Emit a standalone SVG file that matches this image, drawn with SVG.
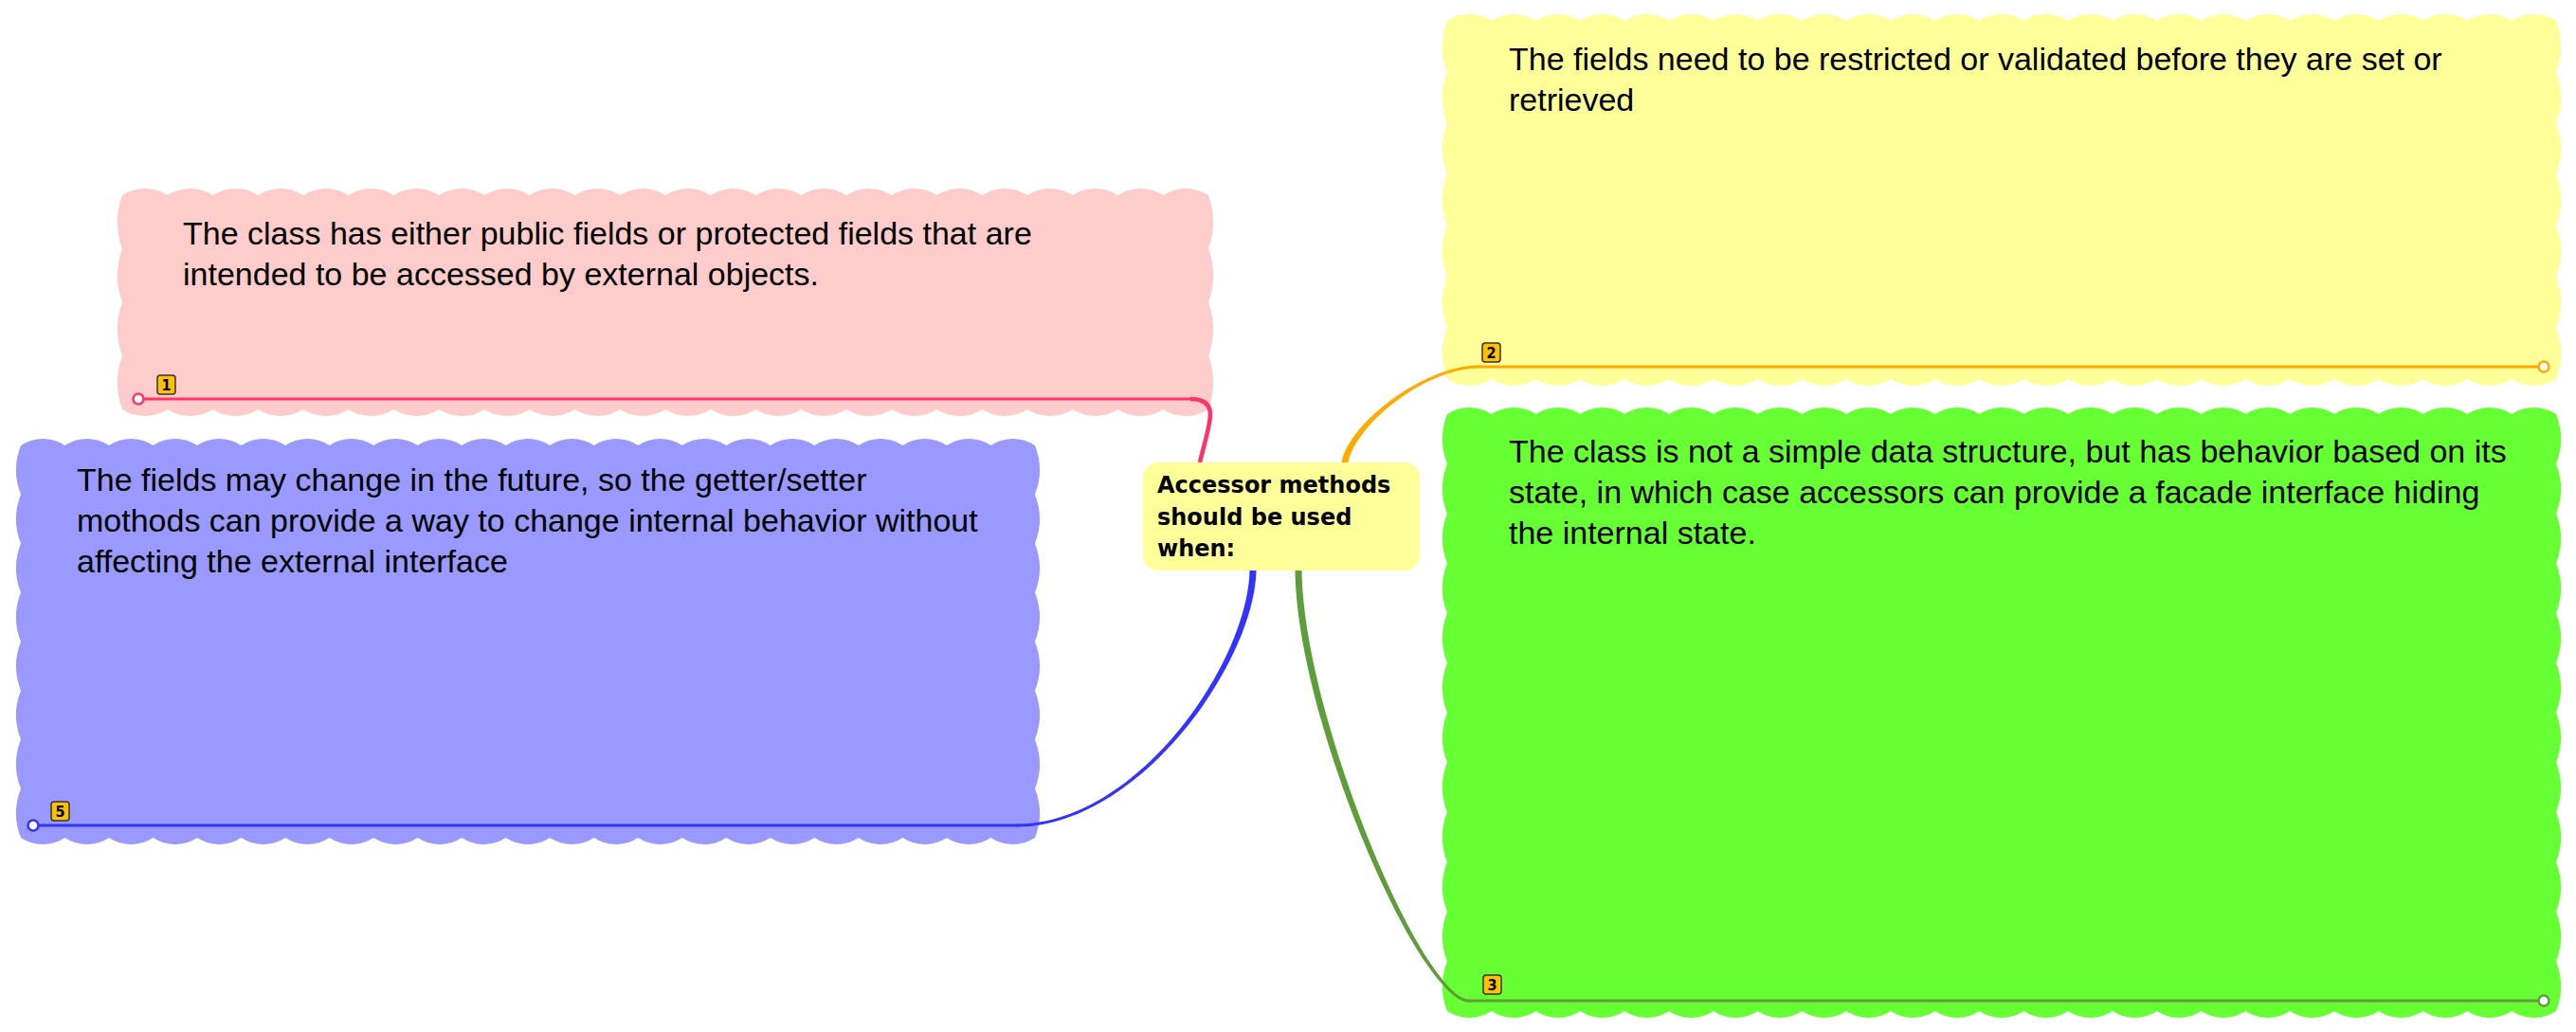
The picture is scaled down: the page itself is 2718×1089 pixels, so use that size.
<svg xmlns="http://www.w3.org/2000/svg" width="2718" height="1089" viewBox="0 0 2718 1089">
<style>
.t{font-family:"Liberation Sans",Arial,sans-serif;font-size:34px;fill:#000}
.c{font-family:"DejaVu Sans",Verdana,sans-serif;font-size:24px;font-weight:bold;fill:#000}
.bd{fill:#ffc000;stroke:#333;stroke-width:1.5}
.bt{font-family:"DejaVu Sans Condensed","DejaVu Sans",sans-serif;font-size:16px;font-weight:bold;fill:#000;text-anchor:middle}
.end{fill:#fff;stroke-width:2.5}
</style>
<rect width="2718" height="1089" fill="#fff"/>
<g id="node-pink">
<path fill="#ffcccc" d="M129,206
a44 44 0 0 1 47.75 0 a44 44 0 0 1 47.75 0 a44 44 0 0 1 47.75 0 a44 44 0 0 1 47.75 0 a44 44 0 0 1 47.75 0 a44 44 0 0 1 47.75 0
a44 44 0 0 1 47.75 0 a44 44 0 0 1 47.75 0 a44 44 0 0 1 47.75 0 a44 44 0 0 1 47.75 0 a44 44 0 0 1 47.75 0 a44 44 0 0 1 47.75 0
a44 44 0 0 1 47.75 0 a44 44 0 0 1 47.75 0 a44 44 0 0 1 47.75 0 a44 44 0 0 1 47.75 0 a44 44 0 0 1 47.75 0 a44 44 0 0 1 47.75 0
a44 44 0 0 1 47.75 0 a44 44 0 0 1 47.75 0 a44 44 0 0 1 47.75 0 a44 44 0 0 1 47.75 0 a44 44 0 0 1 47.75 0 a44 44 0 0 1 47.75 0
a82 82 0 0 1 0 56.5 a82 82 0 0 1 0 56.5 a82 82 0 0 1 0 56.5 a82 82 0 0 1 0 56.5
a44 44 0 0 1 -47.75 0 a44 44 0 0 1 -47.75 0 a44 44 0 0 1 -47.75 0 a44 44 0 0 1 -47.75 0 a44 44 0 0 1 -47.75 0 a44 44 0 0 1 -47.75 0
a44 44 0 0 1 -47.75 0 a44 44 0 0 1 -47.75 0 a44 44 0 0 1 -47.75 0 a44 44 0 0 1 -47.75 0 a44 44 0 0 1 -47.75 0 a44 44 0 0 1 -47.75 0
a44 44 0 0 1 -47.75 0 a44 44 0 0 1 -47.75 0 a44 44 0 0 1 -47.75 0 a44 44 0 0 1 -47.75 0 a44 44 0 0 1 -47.75 0 a44 44 0 0 1 -47.75 0
a44 44 0 0 1 -47.75 0 a44 44 0 0 1 -47.75 0 a44 44 0 0 1 -47.75 0 a44 44 0 0 1 -47.75 0 a44 44 0 0 1 -47.75 0 a44 44 0 0 1 -47.75 0
a82 82 0 0 1 0 -56.5 a82 82 0 0 1 0 -56.5 a82 82 0 0 1 0 -56.5 a82 82 0 0 1 0 -56.5 Z"/>
<text class="t" x="193" y="258">The class has either public fields or protected fields that are</text>
<text class="t" x="193" y="301">intended to be accessed by external objects.</text>
<rect class="bd" x="166" y="396" width="19" height="20" rx="3"/>
<text class="bt" x="175.5" y="412">1</text>
</g>
<g id="node-yellow">
<path fill="#ffff99" d="M1527,22
a43 43 0 0 1 46.8 0 a43 43 0 0 1 46.8 0 a43 43 0 0 1 46.8 0 a43 43 0 0 1 46.8 0 a43 43 0 0 1 46.8 0
a43 43 0 0 1 46.8 0 a43 43 0 0 1 46.8 0 a43 43 0 0 1 46.8 0 a43 43 0 0 1 46.8 0 a43 43 0 0 1 46.8 0
a43 43 0 0 1 46.8 0 a43 43 0 0 1 46.8 0 a43 43 0 0 1 46.8 0 a43 43 0 0 1 46.8 0 a43 43 0 0 1 46.8 0
a43 43 0 0 1 46.8 0 a43 43 0 0 1 46.8 0 a43 43 0 0 1 46.8 0 a43 43 0 0 1 46.8 0 a43 43 0 0 1 46.8 0
a43 43 0 0 1 46.8 0 a43 43 0 0 1 46.8 0 a43 43 0 0 1 46.8 0 a43 43 0 0 1 46.8 0 a43 43 0 0 1 46.8 0
a75 75 0 0 1 0 54 a75 75 0 0 1 0 54 a75 75 0 0 1 0 54 a75 75 0 0 1 0 54 a75 75 0 0 1 0 54 a75 75 0 0 1 0 54 a75 75 0 0 1 0 54
a43 43 0 0 1 -46.8 0 a43 43 0 0 1 -46.8 0 a43 43 0 0 1 -46.8 0 a43 43 0 0 1 -46.8 0 a43 43 0 0 1 -46.8 0
a43 43 0 0 1 -46.8 0 a43 43 0 0 1 -46.8 0 a43 43 0 0 1 -46.8 0 a43 43 0 0 1 -46.8 0 a43 43 0 0 1 -46.8 0
a43 43 0 0 1 -46.8 0 a43 43 0 0 1 -46.8 0 a43 43 0 0 1 -46.8 0 a43 43 0 0 1 -46.8 0 a43 43 0 0 1 -46.8 0
a43 43 0 0 1 -46.8 0 a43 43 0 0 1 -46.8 0 a43 43 0 0 1 -46.8 0 a43 43 0 0 1 -46.8 0 a43 43 0 0 1 -46.8 0
a43 43 0 0 1 -46.8 0 a43 43 0 0 1 -46.8 0 a43 43 0 0 1 -46.8 0 a43 43 0 0 1 -46.8 0 a43 43 0 0 1 -46.8 0
a75 75 0 0 1 0 -54 a75 75 0 0 1 0 -54 a75 75 0 0 1 0 -54 a75 75 0 0 1 0 -54 a75 75 0 0 1 0 -54 a75 75 0 0 1 0 -54 a75 75 0 0 1 0 -54 Z"/>
<text class="t" x="1592" y="74">The fields need to be restricted or validated before they are set or</text>
<text class="t" x="1592" y="117">retrieved</text>
<rect class="bd" x="1564" y="362" width="19" height="20" rx="3"/>
<text class="bt" x="1573.5" y="378">2</text>
</g>
<g id="node-green">
<path fill="#66ff33" d="M1527,437
a43 43 0 0 1 46.8 0 a43 43 0 0 1 46.8 0 a43 43 0 0 1 46.8 0 a43 43 0 0 1 46.8 0 a43 43 0 0 1 46.8 0
a43 43 0 0 1 46.8 0 a43 43 0 0 1 46.8 0 a43 43 0 0 1 46.8 0 a43 43 0 0 1 46.8 0 a43 43 0 0 1 46.8 0
a43 43 0 0 1 46.8 0 a43 43 0 0 1 46.8 0 a43 43 0 0 1 46.8 0 a43 43 0 0 1 46.8 0 a43 43 0 0 1 46.8 0
a43 43 0 0 1 46.8 0 a43 43 0 0 1 46.8 0 a43 43 0 0 1 46.8 0 a43 43 0 0 1 46.8 0 a43 43 0 0 1 46.8 0
a43 43 0 0 1 46.8 0 a43 43 0 0 1 46.8 0 a43 43 0 0 1 46.8 0 a43 43 0 0 1 46.8 0 a43 43 0 0 1 46.8 0
a72 72 0 0 1 0 52.5 a72 72 0 0 1 0 52.5 a72 72 0 0 1 0 52.5 a72 72 0 0 1 0 52.5 a72 72 0 0 1 0 52.5 a72 72 0 0 1 0 52.5
a72 72 0 0 1 0 52.5 a72 72 0 0 1 0 52.5 a72 72 0 0 1 0 52.5 a72 72 0 0 1 0 52.5 a72 72 0 0 1 0 52.5 a72 72 0 0 1 0 52.5
a43 43 0 0 1 -46.8 0 a43 43 0 0 1 -46.8 0 a43 43 0 0 1 -46.8 0 a43 43 0 0 1 -46.8 0 a43 43 0 0 1 -46.8 0
a43 43 0 0 1 -46.8 0 a43 43 0 0 1 -46.8 0 a43 43 0 0 1 -46.8 0 a43 43 0 0 1 -46.8 0 a43 43 0 0 1 -46.8 0
a43 43 0 0 1 -46.8 0 a43 43 0 0 1 -46.8 0 a43 43 0 0 1 -46.8 0 a43 43 0 0 1 -46.8 0 a43 43 0 0 1 -46.8 0
a43 43 0 0 1 -46.8 0 a43 43 0 0 1 -46.8 0 a43 43 0 0 1 -46.8 0 a43 43 0 0 1 -46.8 0 a43 43 0 0 1 -46.8 0
a43 43 0 0 1 -46.8 0 a43 43 0 0 1 -46.8 0 a43 43 0 0 1 -46.8 0 a43 43 0 0 1 -46.8 0 a43 43 0 0 1 -46.8 0
a72 72 0 0 1 0 -52.5 a72 72 0 0 1 0 -52.5 a72 72 0 0 1 0 -52.5 a72 72 0 0 1 0 -52.5 a72 72 0 0 1 0 -52.5 a72 72 0 0 1 0 -52.5
a72 72 0 0 1 0 -52.5 a72 72 0 0 1 0 -52.5 a72 72 0 0 1 0 -52.5 a72 72 0 0 1 0 -52.5 a72 72 0 0 1 0 -52.5 a72 72 0 0 1 0 -52.5 Z"/>
<text class="t" x="1592" y="488">The class is not a simple data structure, but has behavior based on its</text>
<text class="t" x="1592" y="531">state, in which case accessors can provide a facade interface hiding</text>
<text class="t" x="1592" y="574">the internal state.</text>
<rect class="bd" x="1565" y="1029" width="19" height="20" rx="3"/>
<text class="bt" x="1574.5" y="1045">3</text>
</g>
<g id="node-blue">
<path fill="#9999ff" d="M22,470
a42 42 0 0 1 46.52 0 a42 42 0 0 1 46.52 0 a42 42 0 0 1 46.52 0 a42 42 0 0 1 46.52 0 a42 42 0 0 1 46.52 0 a42 42 0 0 1 46.52 0
a42 42 0 0 1 46.52 0 a42 42 0 0 1 46.52 0 a42 42 0 0 1 46.52 0 a42 42 0 0 1 46.52 0 a42 42 0 0 1 46.52 0 a42 42 0 0 1 46.52 0
a42 42 0 0 1 46.52 0 a42 42 0 0 1 46.52 0 a42 42 0 0 1 46.52 0 a42 42 0 0 1 46.52 0 a42 42 0 0 1 46.52 0 a42 42 0 0 1 46.52 0
a42 42 0 0 1 46.52 0 a42 42 0 0 1 46.52 0 a42 42 0 0 1 46.52 0 a42 42 0 0 1 46.52 0 a42 42 0 0 1 46.52 0
a70 70 0 0 1 0 51.75 a70 70 0 0 1 0 51.75 a70 70 0 0 1 0 51.75 a70 70 0 0 1 0 51.75
a70 70 0 0 1 0 51.75 a70 70 0 0 1 0 51.75 a70 70 0 0 1 0 51.75 a70 70 0 0 1 0 51.75
a42 42 0 0 1 -46.52 0 a42 42 0 0 1 -46.52 0 a42 42 0 0 1 -46.52 0 a42 42 0 0 1 -46.52 0 a42 42 0 0 1 -46.52 0 a42 42 0 0 1 -46.52 0
a42 42 0 0 1 -46.52 0 a42 42 0 0 1 -46.52 0 a42 42 0 0 1 -46.52 0 a42 42 0 0 1 -46.52 0 a42 42 0 0 1 -46.52 0 a42 42 0 0 1 -46.52 0
a42 42 0 0 1 -46.52 0 a42 42 0 0 1 -46.52 0 a42 42 0 0 1 -46.52 0 a42 42 0 0 1 -46.52 0 a42 42 0 0 1 -46.52 0 a42 42 0 0 1 -46.52 0
a42 42 0 0 1 -46.52 0 a42 42 0 0 1 -46.52 0 a42 42 0 0 1 -46.52 0 a42 42 0 0 1 -46.52 0 a42 42 0 0 1 -46.52 0
a70 70 0 0 1 0 -51.75 a70 70 0 0 1 0 -51.75 a70 70 0 0 1 0 -51.75 a70 70 0 0 1 0 -51.75
a70 70 0 0 1 0 -51.75 a70 70 0 0 1 0 -51.75 a70 70 0 0 1 0 -51.75 a70 70 0 0 1 0 -51.75 Z"/>
<text class="t" x="81" y="518">The fields may change in the future, so the getter/setter</text>
<text class="t" x="81" y="561">mothods can provide a way to change internal behavior without</text>
<text class="t" x="81" y="604">affecting the external interface</text>
<rect class="bd" x="54" y="846" width="19" height="20" rx="3"/>
<text class="bt" x="63.5" y="862">5</text>
</g>
<g id="connectors">
<path d="M1266,488 C1270,470 1277,450 1277,437 C1277,426 1270,421 1256,421" fill="none" stroke="#ff3366" stroke-width="4.5"/>
<line x1="1258" y1="421" x2="146" y2="421" stroke="#ff3366" stroke-width="3"/>
<circle class="end" cx="146" cy="421" r="5.5" stroke="#ff3366"/>
<path d="M1415.5,488 C1424.5,444 1505,385.5 1560,385.5 L1560,388.5 C1505,388.5 1431.5,446 1422.5,488 Z" fill="#ffaa00"/>
<line x1="1558" y1="387" x2="2684" y2="387" stroke="#ffaa00" stroke-width="3"/>
<circle class="end" cx="2684" cy="387" r="5.5" stroke="#ffaa00"/>
<path d="M1366.5,602 C1368.5,762 1498,1057.5 1550,1057.5 L1550,1054.5 C1502,1054.5 1375.5,758 1373.5,602 Z" fill="#5e9e3a"/>
<line x1="1548" y1="1056" x2="2684" y2="1056" stroke="#5e9e3a" stroke-width="3"/>
<circle class="end" cx="2684" cy="1056" r="5.5" stroke="#5e9e3a"/>
<path d="M1325.5,602 C1323.5,700 1201,872.5 1073,872.5 L1073,869.5 C1199,869.5 1316.5,700 1318.5,602 Z" fill="#3333ff"/>
<line x1="1075" y1="871" x2="35" y2="871" stroke="#3333ff" stroke-width="3"/>
<circle class="end" cx="35" cy="871" r="5.5" stroke="#3333ff"/>
</g>
<g id="node-root">
<rect x="1206" y="488" width="292" height="114" rx="16" fill="#ffff99"/>
<text class="c" x="1221" y="520">Accessor methods</text>
<text class="c" x="1221" y="554">should be used</text>
<text class="c" x="1221" y="587">when:</text>
</g>
</svg>
